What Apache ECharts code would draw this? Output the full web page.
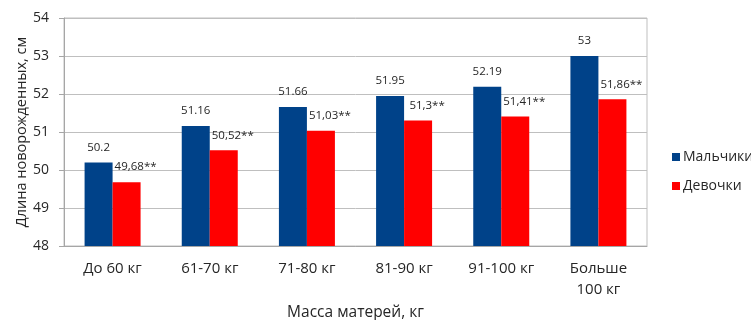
<!DOCTYPE html>
<html>
<head>
<meta charset="utf-8">
<script src="https://cdn.jsdelivr.net/npm/echarts@6/dist/echarts.min.js"></script>
<style>
  html, body { margin: 0; padding: 0; background: #fff; }
  #chart { width: 751px; height: 320px; }
</style>
</head>
<body>
<div id="chart"></div>
<script>
// Newborn length by maternal weight group
const categories = ['До 60 кг', '61-70 кг', '71-80 кг', '81-90 кг', '91-100 кг', 'Больше\n100 кг'];
const boys = [50.2, 51.16, 51.66, 51.95, 52.19, 53];
const girls = [49.68, 50.52, 51.03, 51.3, 51.41, 51.86];
const yTicks = { min: 48, max: 54, step: 1 };

const FONT = '"Open Sans", "Liberation Sans", sans-serif';
const TEXT = '#262626';

const chart = echarts.init(document.getElementById('chart'), null, { renderer: 'canvas' });

chart.setOption({
  animation: false,
  textStyle: { fontFamily: FONT, color: TEXT },
  grid: {
    left: 64, right: 104, top: 18, bottom: 74,
    outerBoundsMode: 'none',
    containLabel: false,
    show: true, borderColor: '#BFBFBF', borderWidth: 1
  },
  legend: {
    orient: 'vertical',
    left: 672, top: 150,
    padding: 0,
    itemWidth: 8, itemHeight: 8, itemGap: 15,
    icon: 'rect',
    textStyle: { fontFamily: FONT, fontSize: 14, color: TEXT, padding: [0, 0, 0, -2] },
    data: ['Мальчики', 'Девочки']
  },
  xAxis: {
    type: 'category',
    data: categories,
    name: 'Масса матерей, кг',
    nameLocation: 'middle',
    nameGap: 55,
    nameTextStyle: { fontFamily: FONT, fontSize: 15.5, color: TEXT },
    axisLine: { lineStyle: { color: '#A6A6A6' } },
    axisTick: { show: false },
    axisLabel: { fontFamily: FONT, fontSize: 15, color: TEXT, margin: 12, lineHeight: 21 }
  },
  yAxis: {
    type: 'value',
    min: yTicks.min, max: yTicks.max, interval: yTicks.step,
    name: 'Длина новорожденных, см',
    nameLocation: 'middle',
    nameGap: 35,
    nameMoveOverlap: false,
    nameTextStyle: { fontFamily: FONT, fontSize: 14.5, color: TEXT },
    axisLine: { show: true, lineStyle: { color: '#A6A6A6' } },
    axisTick: { show: true, length: 5, lineStyle: { color: '#A6A6A6' } },
    axisLabel: { fontFamily: FONT, fontSize: 14, color: TEXT, margin: 15 },
    splitLine: { lineStyle: { color: '#BFBFBF' } }
  },
  series: [
    {
      name: 'Мальчики',
      type: 'bar',
      data: boys,
      barWidth: 28,
      barGap: '0%',
      itemStyle: { color: '#004289' },
      label: {
        show: true, position: 'top', distance: 9,
        fontFamily: FONT, fontSize: 11.5, color: TEXT,
        formatter: p => String(p.value)
      }
    },
    {
      name: 'Девочки',
      type: 'bar',
      data: girls,
      barWidth: 28,
      barGap: '0%',
      itemStyle: { color: '#FF0000' },
      label: {
        show: true, position: 'top', distance: 9, offset: [9, 0],
        fontFamily: FONT, fontSize: 11.5, color: TEXT,
        formatter: p => String(p.value).replace('.', ',') + '**'
      }
    }
  ]
});
</script>
</body>
</html>
